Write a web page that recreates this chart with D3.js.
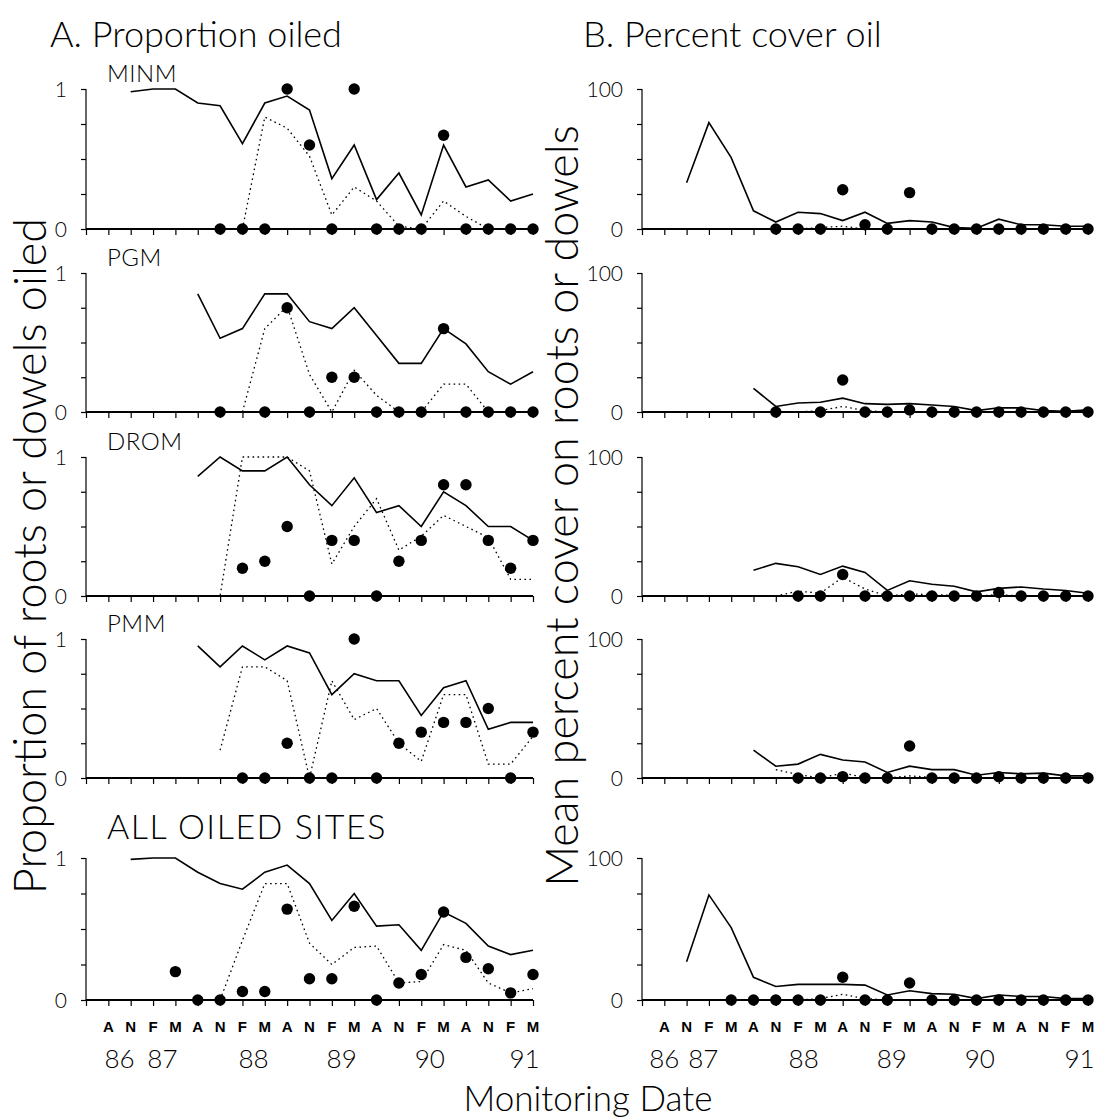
<!DOCTYPE html>
<html>
<head>
<meta charset="utf-8">
<script src="https://cdn.jsdelivr.net/npm/d3@7"></script>
<style>
  html, body { margin: 0; padding: 0; background: #fff; }
  svg { display: block; }
  .lt { font-family: Lato, "Open Sans", "DejaVu Sans", sans-serif; font-weight: 300; fill: #000; }
  .mo { font-family: "Liberation Sans", Arial, sans-serif; font-size: 15px; font-weight: bold; fill: #000; }
</style>
</head>
<body>
<svg id="chart" width="1100" height="1118"></svg>
<script>
// Sampling dates, one every three months from May 1986 to May 1991
const monthLabels = ["", "A", "N", "F", "M", "A", "N", "F", "M", "A", "N", "F", "M", "A", "N", "F", "M", "A", "N", "F", "M"];
const yearLabels = ["86", "87", "88", "89", "90", "91"];
// where each year label sits, in sampling-date units, for panel A and panel B
const yearAtA = [1.5, 3.42, 7.5, 11.44, 15.38, 19.62];
const yearAtB = [1.0, 2.75, 7.25, 11.2, 15.15, 19.62];

const sites = ["MINM", "PGM", "DROM", "PMM", "ALL OILED SITES"];

const _ = null;
// A. Proportion oiled: solid line, dotted line, filled dots
const minmPropSolid  = [_, _, 0.98, 1, 1, 0.9, 0.88, 0.61, 0.9, 0.95, 0.85, 0.36, 0.6, 0.21, 0.4, 0.1, 0.6, 0.3, 0.35, 0.2, 0.25];
const minmPropDotted = [_, _, _, _, _, _, _, 0, 0.8, 0.72, 0.52, 0.1, 0.3, 0.2, 0.02, 0, 0.2, 0.09, 0, _, _];
const minmPropDots   = [_, _, _, _, _, _, 0, 0, 0, 1, 0.6, 0, 1, 0, 0, 0, 0.67, 0, 0, 0, 0];

const pgmPropSolid  = [_, _, _, _, _, 0.85, 0.53, 0.6, 0.85, 0.85, 0.65, 0.6, 0.75, 0.55, 0.35, 0.35, 0.6, 0.49, 0.29, 0.2, 0.29];
const pgmPropDotted = [_, _, _, _, _, _, _, 0, 0.6, 0.76, 0.27, 0, 0.3, 0.12, 0, 0, 0.2, 0.2, 0, _, _];
const pgmPropDots   = [_, _, _, _, _, _, 0, _, 0, 0.75, 0, 0.25, 0.25, 0, 0, 0, 0.6, 0, 0, 0, 0];

const dromPropSolid  = [_, _, _, _, _, 0.86, 1, 0.9, 0.9, 1, 0.8, 0.65, 0.85, 0.6, 0.65, 0.5, 0.75, 0.65, 0.5, 0.5, 0.4];
const dromPropDotted = [0, 0, 0, 0, 0, 0, 0, 1, 1, 1, 0.9, 0.23, 0.5, 0.7, 0.33, 0.43, 0.58, 0.5, 0.42, 0.12, 0.12];
const dromPropDots   = [_, _, _, _, _, _, _, 0.2, 0.25, 0.5, 0, 0.4, 0.4, 0, 0.25, 0.4, 0.8, 0.8, 0.4, 0.2, 0.4];

const pmmPropSolid  = [_, _, _, _, _, 0.95, 0.8, 0.95, 0.85, 0.95, 0.9, 0.6, 0.75, 0.7, 0.7, 0.45, 0.65, 0.7, 0.35, 0.4, 0.4];
const pmmPropDotted = [_, _, _, _, _, _, 0.2, 0.8, 0.8, 0.7, 0, 0.7, 0.42, 0.5, 0.25, 0.12, 0.6, 0.6, 0.1, 0.1, 0.3];
const pmmPropDots   = [_, _, _, _, _, _, _, 0, 0, 0.25, 0, 0, 1, 0, 0.25, 0.33, 0.4, 0.4, 0.5, 0, 0.33];

const allPropSolid  = [_, _, 0.99, 1, 1, 0.9, 0.82, 0.78, 0.9, 0.95, 0.82, 0.56, 0.75, 0.52, 0.53, 0.35, 0.62, 0.54, 0.38, 0.32, 0.35];
const allPropDotted = [_, _, _, _, _, _, 0, 0.42, 0.82, 0.82, 0.4, 0.25, 0.37, 0.38, 0.12, 0.13, 0.39, 0.35, 0.12, 0.05, 0.08];
const allPropDots   = [_, _, _, _, 0.2, 0, 0, 0.06, 0.06, 0.64, 0.15, 0.15, 0.66, 0, 0.12, 0.18, 0.62, 0.3, 0.22, 0.05, 0.18];

// B. Percent cover oil
const minmCoverSolid  = [_, _, 33, 76, 51, 13, 5, 12, 11, 6, 12, 4, 6, 5, 1, 0.5, 7, 3, 3, 2, 2];
const minmCoverDotted = [_, _, _, _, _, _, 0, 0, 1, 2, 0, 0, 0, 0, 0, 0, 0, 0, 0, 0, 0];
const minmCoverDots   = [_, _, _, _, _, _, 0, 0, 0, 28, 3, 0, 26, 0, 0, 0, 0, 0, 0, 0, 0];

const pgmCoverSolid  = [_, _, _, _, _, 17, 4, 6.5, 7, 10, 6, 5.5, 6, 5, 4, 1, 3, 3, 1, 0.5, 1.5];
const pgmCoverDotted = [_, _, _, _, _, _, 0, 0, 1, 4, 1, 0, 0, 0, 0, 0, 0, 0, 0, 0, 0];
const pgmCoverDots   = [_, _, _, _, _, _, 0, _, 0, 23, 0, 0, 1.5, 0, 0, 0, 0, 0, 0, 0, 0];

const dromCoverSolid  = [_, _, _, _, _, 18.5, 23.5, 21, 15.5, 21.5, 17, 4, 11, 8.5, 7, 3, 5.5, 6.5, 5, 4, 2];
const dromCoverDotted = [_, _, _, _, _, _, 0, 3.5, 2, 13.5, 5, 0, 1.5, 1, 0.5, 0, 1, 0, 0, 0, 0];
const dromCoverDots   = [_, _, _, _, _, _, _, 0, 0, 15.5, 0, 0, 0, 0, 0, 0, 2.5, 0, 0, 0, 0];

const pmmCoverSolid  = [_, _, _, _, _, 20, 8.5, 10, 17, 13, 11.5, 4, 8.5, 6, 6, 2, 4, 3, 3.5, 1.5, 1.5];
const pmmCoverDotted = [_, _, _, _, _, _, 6, 2.5, 0, 3.5, 0.5, 0, 1.5, 0.5, 0, 0, 0, 0, 0, 0, 0];
const pmmCoverDots   = [_, _, _, _, _, _, _, 0, 0, 1, 0, 0, 23, 0, 0, 0, 1, 0, 0, 0, 0];

const allCoverSolid  = [_, _, 27, 74, 51, 16, 9.5, 11, 11, 11, 10.5, 3.5, 6.5, 4.5, 4, 1, 3.5, 2.5, 2.5, 1, 1];
const allCoverDotted = [_, _, _, _, 0, 0, 0, 0, 1, 4, 1, 0, 0, 0, 0, 0, 0, 0, 0, 0, 0];
const allCoverDots   = [_, _, _, _, 0, 0, 0, 0, 0, 16, 0, 0, 12, 0, 0, 0, 0, 0, 0, 0, 0];

const propSeries = [
  [minmPropSolid, minmPropDotted, minmPropDots],
  [pgmPropSolid, pgmPropDotted, pgmPropDots],
  [dromPropSolid, dromPropDotted, dromPropDots],
  [pmmPropSolid, pmmPropDotted, pmmPropDots],
  [allPropSolid, allPropDotted, allPropDots]
];
const coverSeries = [
  [minmCoverSolid, minmCoverDotted, minmCoverDots],
  [pgmCoverSolid, pgmCoverDotted, pgmCoverDots],
  [dromCoverSolid, dromCoverDotted, dromCoverDots],
  [pmmCoverSolid, pmmCoverDotted, pmmCoverDots],
  [allCoverSolid, allCoverDotted, allCoverDots]
];

// ---- layout ----
const svg = d3.select("#chart");
const rowTop = [89, 273, 457, 639, 858];
const rowBottom = [229, 412, 596, 778, 1000];
const panels = [
  { x0: 86, x1: 533, max: 1, ticks: [0, 0.25, 0.5, 0.75, 1], labels: { 0: "0", 1: "1" }, series: propSeries, yearAt: yearAtA },
  { x0: 642, x1: 1088, max: 100, ticks: [0, 25, 50, 75, 100], labels: { 0: "0", 100: "100" }, series: coverSeries, yearAt: yearAtB }
];

const idx = d3.range(monthLabels.length);

panels.forEach((p, pi) => {
  const x = d3.scaleLinear().domain([0, monthLabels.length - 1]).range([p.x0, p.x1]);
  p.series.forEach((ser, ri) => {
    const y = d3.scaleLinear().domain([0, p.max]).range([rowBottom[ri], rowTop[ri]]);
    const g = svg.append("g");

    // x axis: line and downward ticks
    const xAxis = d3.axisBottom(x).tickValues(idx).tickSize(6).tickFormat("");
    g.append("g").attr("transform", `translate(0,${rowBottom[ri]})`).call(xAxis)
      .call(s => s.select(".domain").attr("stroke-width", 1.8).attr("d", `M${p.x0},0H${p.x1}`))
      .call(s => s.selectAll(".tick line").attr("stroke-width", 1.2));

    // y axis: ticks to the left, labels only at the ends
    const yAxis = d3.axisLeft(y).tickValues(p.ticks).tickSize(5)
      .tickFormat(d => p.labels[d] || "");
    g.append("g").attr("transform", `translate(${p.x0},0)`).call(yAxis)
      .call(s => s.select(".domain").attr("stroke-width", 1.2).attr("d", `M0,${rowBottom[ri]}V${rowTop[ri]}`))
      .call(s => s.selectAll(".tick line").attr("stroke-width", 1.2))
      .call(s => s.selectAll(".tick text").attr("class", "lt").attr("x", -19)
        .style("font-size", "21px").attr("dy", "0.35em"));

    const line = d3.line().defined(d => d[1] !== null).x(d => x(d[0])).y(d => y(d[1]));
    const pts = arr => arr.map((v, i) => [i, v]);

    // dotted line
    g.append("path").attr("d", line(pts(ser[1])))
      .attr("fill", "none").attr("stroke", "#000").attr("stroke-width", 1.3)
      .attr("stroke-dasharray", "1.6,3.4");
    // solid line
    g.append("path").attr("d", line(pts(ser[0])))
      .attr("fill", "none").attr("stroke", "#000").attr("stroke-width", 1.6)
      .attr("stroke-linejoin", "miter");
    // dots
    g.selectAll("circle").data(pts(ser[2]).filter(d => d[1] !== null)).join("circle")
      .attr("cx", d => x(d[0])).attr("cy", d => y(d[1])).attr("r", 5.7).attr("fill", "#000");

    // site label
    if (pi === 0) {
      const big = ri === 4;
      svg.append("text").attr("class", "lt")
        .attr("x", p.x0 + 21).attr("y", big ? rowTop[ri] - 19 : rowTop[ri] - 7)
        .style("font-size", big ? "34px" : "24px")
        .style("letter-spacing", big ? "1.5px" : "0.5px")
        .text(sites[ri]);
    }
  });

  // month and year labels under the bottom row
  svg.append("g").selectAll("text").data(idx).join("text")
    .attr("class", "mo").attr("text-anchor", "middle")
    .attr("x", i => x(i)).attr("y", 1032).text(i => monthLabels[i]);
  svg.append("g").selectAll("text").data(yearLabels).join("text")
    .attr("class", "lt").attr("text-anchor", "middle").style("font-size", "26px")
    .attr("x", (d, i) => x(p.yearAt[i])).attr("y", 1068).text(d => d);
});

// titles and axis titles
svg.append("text").attr("class", "lt").attr("x", 50).attr("y", 47).style("font-size", "36px").text("A. Proportion oiled");
svg.append("text").attr("class", "lt").attr("x", 583).attr("y", 47).style("font-size", "36px").text("B. Percent cover oil");
svg.append("text").attr("class", "lt").attr("text-anchor", "middle")
  .attr("transform", "translate(46,556) rotate(-90)").style("font-size", "45px")
  .text("Proportion of roots or dowels oiled");
svg.append("text").attr("class", "lt").attr("text-anchor", "middle")
  .attr("transform", "translate(578,506) rotate(-90)").style("font-size", "45px")
  .text("Mean percent cover on roots or dowels");
svg.append("text").attr("class", "lt").attr("text-anchor", "middle")
  .attr("x", 588).attr("y", 1111).style("font-size", "35px").text("Monitoring Date");
</script>
</body>
</html>
